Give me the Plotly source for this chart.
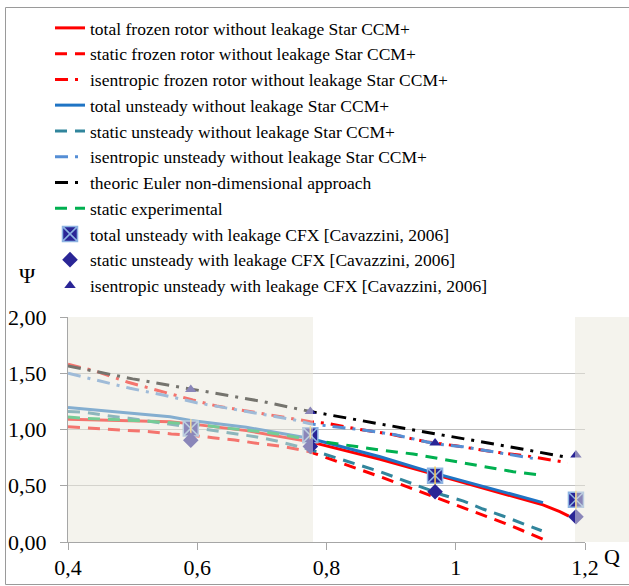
import plotly.graph_objects as go

# ---------------- data ----------------
q_euler = [0.4, 0.5, 0.6, 0.7, 0.775, 0.9, 0.98, 1.08, 1.175]
psi_euler = [1.565, 1.45, 1.35, 1.25, 1.16, 1.03, 0.95, 0.85, 0.75]

q_isen_fr = [0.4, 0.442, 0.493, 0.542, 0.593, 0.63, 0.683, 0.735, 0.775, 0.8, 0.852, 0.9, 0.955, 1.0, 1.06, 1.11, 1.173]
psi_isen_fr = [1.58, 1.52, 1.42, 1.34, 1.262, 1.209, 1.158, 1.105, 1.07, 1.055, 1.0, 0.957, 0.89, 0.855, 0.80, 0.765, 0.705]

q_isen_un = [0.4, 0.442, 0.47, 0.496, 0.522, 0.547, 0.599, 0.65, 0.702, 0.751, 0.775, 0.857, 0.908, 0.97, 1.011, 1.115, 1.128]
psi_isen_un = [1.50, 1.44, 1.40, 1.366, 1.336, 1.307, 1.238, 1.188, 1.135, 1.084, 1.05, 0.996, 0.951, 0.87, 0.847, 0.744, 0.735]

q_tot_un = [0.4, 0.558, 0.59, 0.676, 0.775, 0.883, 0.968, 1.05, 1.135]
psi_tot_un = [1.195, 1.114, 1.08, 1.02, 0.92, 0.758, 0.61, 0.48, 0.35]

q_tot_fr = [0.4, 0.558, 0.59, 0.676, 0.775, 0.883, 0.968, 1.05, 1.135, 1.161, 1.175]
psi_tot_fr = [1.09, 1.07, 1.05, 0.99, 0.89, 0.735, 0.60, 0.47, 0.33, 0.27, 0.23]

q_stat_exp = [0.4, 0.426, 0.49, 0.54, 0.59, 0.65, 0.7, 0.735, 0.76, 0.775, 0.883, 0.934, 0.986, 1.037, 1.089, 1.13]
psi_stat_exp = [1.11, 1.10, 1.084, 1.07, 1.05, 1.01, 0.98, 0.95, 0.92, 0.907, 0.818, 0.782, 0.729, 0.676, 0.625, 0.596]

q_stat_un = [0.4, 0.426, 0.46, 0.494, 0.59, 0.624, 0.655, 0.69, 0.723, 0.754, 0.775, 0.883, 0.914, 0.947, 0.98, 1.012, 1.042, 1.073, 1.104, 1.133]
psi_stat_un = [1.16, 1.153, 1.123, 1.10, 1.02, 0.99, 0.966, 0.936, 0.898, 0.853, 0.82, 0.625, 0.557, 0.49, 0.418, 0.364, 0.293, 0.231, 0.166, 0.10]

q_stat_fr = [0.4, 0.426, 0.46, 0.493, 0.527, 0.56, 0.59, 0.624, 0.658, 0.692, 0.728, 0.762, 0.775, 0.883, 0.914, 0.947, 0.98, 1.012, 1.042, 1.076, 1.104, 1.138]
psi_stat_fr = [1.025, 1.016, 1.004, 0.995, 0.98, 0.96, 0.95, 0.927, 0.907, 0.877, 0.853, 0.818, 0.80, 0.58, 0.513, 0.447, 0.373, 0.305, 0.24, 0.166, 0.10, 0.018]

q_cfx = [0.59, 0.775, 0.968, 1.186]
psi_cfx_total = [1.01, 0.95, 0.59, 0.375]
psi_cfx_static = [0.905, 0.85, 0.447, 0.225]
psi_cfx_isen = [1.355, 1.16, 0.88, 0.773]

x_ticks = [0.4, 0.6, 0.8, 1.0, 1.2]
x_ticktext = ["0,4", "0,6", "0,8", "1", "1,2"]
y_ticks = [0, 0.5, 1.0, 1.5, 2.0]
y_ticktext = ["0,00", "0,50", "1,00", "1,50", "2,00"]

# ---------------- styles ----------------
FONT = "Liberation Serif"
RED = "#FF0000"
BLUE = "#1F74C4"
TEAL = "#31859C"
LBLUE = "#558ED5"
GREEN = "#00B050"
NAVY = "#2A2596"
DASH = "12px,8px"
DASHDOT = "13px,7px,3px,7px"

fig = go.Figure()

def line(x, y, name, color, dash, width=3, group=None):
    fig.add_trace(go.Scatter(x=x, y=y, mode="lines", name=name,
                             line=dict(color=color, width=width, dash=dash),
                             legendgroup=group or name))

line(q_tot_fr, psi_tot_fr, "total frozen rotor without leakage Star CCM+", RED, "solid")
line(q_stat_fr, psi_stat_fr, "static frozen rotor without leakage Star CCM+", RED, DASH)
line(q_isen_fr, psi_isen_fr, "isentropic frozen rotor without leakage Star CCM+", RED, DASHDOT)
line(q_tot_un, psi_tot_un, "total unsteady without leakage Star CCM+", BLUE, "solid")
line(q_stat_un, psi_stat_un, "static unsteady without leakage Star CCM+", TEAL, DASH)
line(q_isen_un, psi_isen_un, "isentropic unsteady without leakage Star CCM+", LBLUE, DASHDOT)
line(q_euler, psi_euler, "theoric Euler non-dimensional approach", "#000000", DASHDOT)
line(q_stat_exp, psi_stat_exp, "static experimental", GREEN, DASH)

fig.add_trace(go.Scatter(x=q_cfx, y=psi_cfx_total, mode="markers",
                         name="total unsteady with leakage CFX [Cavazzini, 2006]",
                         legendgroup="m1",
                         marker=dict(symbol="square-x", size=15, color=NAVY,
                                     line=dict(color="#8DB3E2", width=1.5))))
fig.add_trace(go.Scatter(x=q_cfx, y=psi_cfx_total, mode="markers", showlegend=False,
                         legendgroup="m1",
                         marker=dict(symbol="line-ns-open", size=13,
                                     line=dict(color="#8DB3E2", width=1.5))))
fig.add_trace(go.Scatter(x=q_cfx, y=psi_cfx_static, mode="markers",
                         name="static unsteady with leakage CFX [Cavazzini, 2006]",
                         legendgroup="m2",
                         marker=dict(symbol="diamond", size=12, color=NAVY)))
fig.add_trace(go.Scatter(x=q_cfx, y=psi_cfx_isen, mode="markers",
                         name="isentropic unsteady with leakage CFX [Cavazzini, 2006]",
                         legendgroup="m3",
                         marker=dict(symbol="triangle-up", size=10, color=NAVY)))

# plot-area pixel geometry: x 68..585, y 317..542
PW, PH = 517.0, 225.0
def px(xpix):
    return (xpix - 68) / PW
def py(ypix):
    return (542 - ypix) / PH

shade = "rgba(234,231,220,0.5)"
fig.add_shape(type="rect", xref="paper", yref="paper", x0=px(68), x1=px(313), y0=0, y1=1,
              fillcolor=shade, line_width=0, layer="above")
fig.add_shape(type="rect", xref="paper", yref="paper", x0=px(575), x1=px(640), y0=0, y1=1,
              fillcolor=shade, line_width=0, layer="above")
# outer border
fig.add_shape(type="rect", xref="paper", yref="paper", x0=px(5.5), x1=px(640), y0=py(584.5), y1=py(7.5),
              fillcolor="rgba(0,0,0,0)", line=dict(color="#9A9A9A", width=1), layer="below")

fig.add_annotation(text="Ψ", xref="paper", yref="paper", x=px(27), y=py(275),
                   xanchor="center", yanchor="middle",
                   showarrow=False, font=dict(family=FONT, size=22, color="#000"))
fig.add_annotation(text="Q", xref="paper", yref="paper", x=px(612), y=py(556),
                   xanchor="center", yanchor="middle",
                   showarrow=False, font=dict(family=FONT, size=22, color="#000"))

fig.update_layout(
    width=629, height=586,
    margin=dict(l=68, r=44, t=317, b=44, autoexpand=False),
    paper_bgcolor="white", plot_bgcolor="white",
    font=dict(family=FONT, size=20, color="#000"),
    showlegend=True,
    legend=dict(x=px(50), y=py(10), xanchor="left", yanchor="top",
                font=dict(family=FONT, size=17.5, color="#000"),
                bgcolor="rgba(0,0,0,0)", traceorder="grouped", tracegroupgap=0,
                itemwidth=30, maxheight=600),
    xaxis=dict(range=[0.4, 1.2], tickvals=x_ticks, ticktext=x_ticktext,
               showgrid=False, zeroline=False, showline=True, linecolor="#A6A6A6",
               ticks="outside", ticklen=7, tickcolor="#A6A6A6", ticklabelstandoff=-1,
               tickfont=dict(family=FONT, size=22)),
    yaxis=dict(range=[0, 2.0], tickvals=y_ticks, ticktext=y_ticktext,
               showgrid=True, gridcolor="#BFBFBF", gridwidth=1, zeroline=False,
               showline=True, linecolor="#A6A6A6",
               ticks="outside", ticklen=7, tickcolor="#A6A6A6", ticklabelstandoff=9,
               tickfont=dict(family=FONT, size=22)),
)

fig.write_html("out.html", config={"displayModeBar": False},
               post_script="document.body.style.margin='0px';document.body.style.overflow='hidden';")
